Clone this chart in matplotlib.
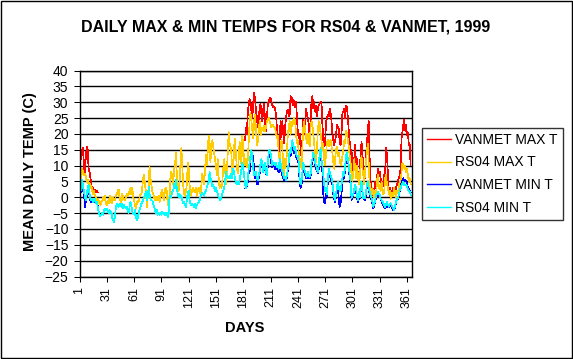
import numpy as np
import matplotlib
matplotlib.use("Agg")
import matplotlib.pyplot as plt
from matplotlib.patches import Rectangle

plt.rcParams["font.family"] = ["Liberation Sans", "DejaVu Sans"]

# Daily values (deg C), day 1..365
rs04_max = [
    5, 7, 6, 9, 8, 7, 7.5, 6.5, 5, 5.5,
    4, 4.5, 3, 3.5, 2, 1, 2, 0.5, 0, -1,
    -0.5, -2, -1, -2.5, -1.5, -1, 0, -1, 0.5, -2,
    -2.5, -1, -2, 0, 0.6, -1.5, -2, 0, -0.5, -1,
    0.5, 1, 2, 2.5, 0, -1, -2, 1, 0, -0.5,
    -1, 0, 1, 0.5, 1, 2, 3, 1, 3, 0,
    -1, -2.5, -3.5, -2, -1, -1.5, 0, 1, 1, 3,
    6, 7, 4, 2, -3, 0, 3, 10, 6, 4,
    2, 1, 0, -1, 0, -1, -0.5, 0.5, -1.5, 0,
    1.5, 2.5, 0, -1, 2.5, 3, 2, -2.5, -1, 0,
    7, 8, 6, 4, 9, 10, 14, 7, 3, 2,
    5, 11, 15.5, 10, 4, 1, 0.5, 2, 4, 11,
    9, 4, 0.5, 1, 2.5, 3, 2, 1.5, 3, 0.5,
    2, 3, 1.5, 1, 4, 7.5, 6, 4, 9, 13.5,
    10, 14.5, 19.5, 15, 11, 17.5, 18, 16, 14, 12,
    10, 7, 12, 6, 3, 4, 3, 5, 9, 12,
    9, 4, 8, 14, 20.5, 17, 16, 13.5, 7, 9,
    16, 18.5, 13, 9.5, 7.5, 12, 17.5, 14, 10.5, 19.5,
    16, 11, 10, 12, 9.5, 12, 17.5, 24, 26.5, 24,
    21, 18.5, 24, 26, 21.5, 16.5, 17.5, 20.5, 24, 19.5,
    21.5, 22, 21, 22.5, 21, 22, 24, 24.5, 25, 24,
    23, 22, 23, 22.5, 22, 22, 20, 18.5, 19.5, 13.5,
    11.5, 15, 18, 16, 9, 6, 12, 10, 14, 20,
    22, 24, 20, 22, 24, 23, 25, 24, 20, 17,
    18, 14, 10, 12, 9, 16, 22, 24, 21, 19,
    17, 20, 18, 16, 22, 24, 23, 20, 17, 13,
    11, 15, 21, 24, 23, 20, 18, 15, 17, 12,
    10, 14, 17.5, 18, 16, 17, 18, 16, 14, 11,
    9, 12, 15, 16, 13, 14, 12, 10, 11, 13,
    15, 18, 17, 21, 20, 18, 16, 13, 11, 7,
    5, 8, 12, 9, 6, 10, 7, 4, 6, 10,
    13, 9, 7, 4, 9, 11, 15, 17, 10, 4,
    2, 1, 3, 1, 0, 2, 0.5, 5, 7, 3,
    4, 2, 5, 3, 1, 2, 6, 7, 4, 3,
    1, 2, -0.5, 0, 1.5, 0.5, 3, 1, 0, 2,
    1.5, 3, 5, 4, 8, 11, 10, 9, 10, 8,
    9, 7, 5, 6, 4,
]

rs04_min = [
    -2.5, 1.5, 4, 5.5, 3, 2, 0, -1, 1, 3,
    4, 1, -0.5, -1, -0.5, -1.5, -1, -0.5, -2, -1.5,
    -3, -4.5, -5.5, -6, -5.5, -5, -5.5, -4, -3.5, -4,
    -3.5, -4.5, -5, -4, -5, -4.5, -6.5, -7, -7.8, -6,
    -3, -2, -2.5, -3, -2, -2.5, -3, -2, -3.5, -2.5,
    -3, -3.5, -3, -4.5, -5, -3, -1.5, -2.5, -4.5, -5,
    -5.5, -4, -6, -7.3, -6.5, -5, -4, -3, -2, -1.5,
    -1, 0, 1, 1.7, -1, 0, 3.3, 1, -0.5, -1,
    -1, -2, -3, -4, -5, -4, -5.5, -5, -5.5, -5,
    -5.5, -4.5, -5, -5.5, -5, -5.5, -5, -6.2, -5, 0.6,
    0, 0.5, 1.7, 2, 4.3, 3, 5.4, 3, 1, 0,
    1, 0, 0.5, -1, -2, -1.5, -2.5, -3, -1, 1.7,
    2, -1, -2, -2.5, -2, -2.5, -3, -2, -3.5, -2.5,
    -2, -1.5, -1, 0, 1, 1.5, 1, 0.5, 1.5, 2,
    3.3, 4, 4.8, 8, 6, 5, 3.5, 4, 3, 2,
    3, 2, 1, 0, -0.5, -1, 0, 1, 2, 3,
    5, 8, 6.5, 6, 6.5, 6, 7, 7.5, 6, 9,
    8, 5.5, 4.5, 4, 5, 4, 5.5, 7, 9, 11,
    9, 7, 4, 3, 4, 6, 9, 11, 13.5, 15,
    12, 9, 7, 7, 8, 6, 5.5, 7, 8, 11,
    12, 10, 8, 10, 11, 8, 7, 11, 14, 15,
    14, 12, 10, 11, 11, 10, 11, 9.5, 10, 9,
    12, 11, 9, 8, 7, 6, 6.5, 5.5, 7, 9,
    11, 15, 14, 16, 18, 16, 15, 16, 14, 13,
    13, 11, 6, 4, 5, 8, 11, 9, 8, 7,
    6.5, 8, 7, 6.5, 7, 11, 12, 14, 13, 11,
    10, 9, 8, 10, 14, 15.5, 12, 10, 7, 4,
    2, 3, 1, 6, 9, 8, 7, 6, 5, 2,
    0, -1, 1, 3, 5, 3, 2, 2, 4, 6,
    8, 7, 10, 13, 14, 12, 10, 7, 5, -0.3,
    0.5, 1, 2.5, 4, 3, 0.5, -0.8, 1.8, 0, 4,
    5, 2, -0.3, 0, -0.3, 1.8, 4, 5, 2.8, 1.8,
    0.5, -0.3, -1.4, -3, -2, -1, 0.7, 1, 1.8, 1,
    0.7, -0.3, -0.8, -1.4, -1.9, -2.5, -3, -2.4, -1.4, -2.4,
    -3, -2.2, -1.9, -2.4, -3, -3.5, -4, -2.4, -1.4, -0.5,
    -0.3, 0.7, 2.3, 2.8, 4, 4.5, 5, 3.9, 4, 3.9,
    3.4, 2.3, 2, 1.8, 0.7,
]

# VANMET only has data for days 1-21 and 183-365
vanmet_max_early = [5, 14, 12, 15, 15.5, 9, 8, 13, 16, 15,
                    9, 8, 6, 4, 2.5, 3, 1.5, 2.5, 1.5, 2, 1.5]
vanmet_max_late = [
    18, 22, 20, 27, 29, 31, 30, 27,
    25, 30, 33, 31, 27.5, 25, 22, 24, 28.5, 29.5,
    26, 24, 28, 29.5, 24, 21, 25, 29.5, 30, 31,
    31.5, 30, 29, 28.5, 28.5, 28, 26, 22, 19, 14,
    18, 24, 19, 24, 20, 17, 22, 25, 27, 27.5,
    25.5, 26, 32, 30, 31.5, 29, 30.5, 28.5, 30, 25,
    20.5, 18.5, 20, 15.5, 13, 18, 24.5, 20, 22, 28,
    26, 25, 23, 16.5, 22, 30.5, 32, 28, 30, 27,
    29, 25.5, 28, 29, 29.5, 30, 30, 23, 18, 16,
    17, 24, 25, 26, 25.5, 28, 26.5, 24, 20, 18,
    16.5, 18, 19.5, 23, 22, 21.5, 17.5, 16.5, 20, 26.5,
    27, 28, 25, 29, 28.5, 25, 21, 17.5, 13.5, 15,
    10, 8, 12, 16.5, 10, 12, 7, 6, 9, 13.5,
    17.5, 13.5, 10, 8, 6, 13.5, 16.5, 22, 24, 11.5,
    5, 2.8, 0.7, 2.8, 1.8, 5, 2.8, 6, 9, 7,
    8, 6, 4, 3, 5, 7, 8, 15.5, 13.5, 7,
    2, 3, 2.3, 1, 2, 3, 1, 2, 3, 4,
    5, 6, 7, 9, 18.5, 20.5, 23, 24.5, 21, 23,
    19.5, 20.5, 16.5, 16.5, 10,
]
vanmet_min_early = [0, 1, 3, 4.5, 2, 1, -3.2, -1, 0.5, 2.5,
                    3, 0.5, -1, -1.5, -1, -1.5, -1.5, -1, -2, -1.5, -2.5]
vanmet_min_late = [
    2.8, 3, 3.5, 5, 7.5, 8, 12, 14,
    12.5, 13, 8, 6, 7, 4, 4, 6, 7.5, 10,
    11, 9.5, 8, 9, 10, 7.5, 7, 10, 13, 14,
    12, 10.5, 9.5, 10, 10.5, 9, 10, 9, 8.5, 8,
    11, 10, 8, 7, 6, 5.5, 6, 5, 6.5, 8.5,
    10, 14, 13, 15, 16, 15, 14, 15, 13, 12,
    12, 10, 5, 3, 3.5, 7, 10, 8, 7, 6,
    6, 7, 6, 6, 6.5, 10, 11, 13, 12, 10,
    9, 8.5, 7.5, 9, 13, 14, 11, 8, 1, -1.5,
    -2, 1, 0.5, 5, 8, 7, 6, 5, 4, 1,
    -0.5, -1.5, 0.5, 2, 4, -1, -3, -2, 1, 5,
    7, 6, 9, 12, 13, 12.5, 9, 6, 4, -1,
    0, 0.5, 2, 3, 2, 0, -1.5, 1, -0.5, 3,
    4, 1.5, -0.5, -0.5, -1, 1, 3.5, 4.5, 2, 1,
    0, -1, -2, -3.5, -2.5, -1.5, 0, 0.5, 1.5, 0.5,
    0.5, -0.5, -1, -2, -2.5, -3, -3.5, -3, -2, -3,
    -3, -2.5, -2, -3, -3.5, -4, -4, -3, -1.5, -0.5,
    -0.5, 0.5, 2, 3, 4.5, 5.5, 6, 5, 5.5, 5,
    4.5, 3, 2.5, 2, 1.5,
]

series_names = ["VANMET MAX T", "RS04 MAX T", "VANMET MIN T", "RS04 MIN T"]
series_colors = ["#FF0000", "#FFCC00", "#0000FF", "#00FFFF"]
x_ticks = list(range(1, 366, 30))


def full_year(early, late):
    """Put the VANMET pieces into a 365 day array, gaps as NaN."""
    vals = np.full(365, np.nan)
    vals[:len(early)] = early
    vals[365 - len(late):] = late
    return vals


def main():
    days = np.arange(1, 366)
    data = [full_year(vanmet_max_early, vanmet_max_late),
            np.array(rs04_max, dtype=float),
            full_year(vanmet_min_early, vanmet_min_late),
            np.array(rs04_min, dtype=float)]

    W, H = 573, 359
    fig = plt.figure(figsize=(W / 100, H / 100), dpi=100)
    fig.patch.set_facecolor("white")

    # plot area in pixels: left 79.5, right 412, top 70.5, bottom 276.5
    ax = fig.add_axes([79.5 / W, 1 - 276.5 / H, (412 - 79.5) / W, (276.5 - 70.5) / H])
    for vals, name, col in zip(data, series_names, series_colors):
        ax.plot(days, vals, color=col, lw=0.5, label=name, antialiased=False)

    ax.set_xlim(1, 366.5)
    ax.set_ylim(-25, 40)
    ax.set_yticks(range(-25, 41, 5))
    ax.set_xticks(x_ticks)
    ax.set_xticklabels([str(t) for t in x_ticks], rotation=90, fontsize=9)
    ax.tick_params(axis="y", labelsize=10, length=4.5, width=0.75, pad=3.5, direction="out")
    ax.tick_params(axis="x", length=3.5, width=0.75, pad=4, direction="out")
    ax.grid(axis="y", color="black", lw=1.0)
    ax.set_axisbelow(True)
    for sp in ax.spines.values():
        sp.set_linewidth(1.0)
        sp.set_color("black")

    fig.text(285.5 / W, 1 - 27 / H, "DAILY MAX & MIN TEMPS FOR RS04 & VANMET, 1999",
             ha="center", va="center", fontsize=11.5, fontweight="bold")
    fig.text(30 / W, 1 - 172 / H, "MEAN DAILY TEMP (C)", rotation=90,
             ha="center", va="center", fontsize=10.5, fontweight="bold")
    fig.text(245 / W, 1 - 328 / H, "DAYS", ha="center", va="center",
             fontsize=10.5, fontweight="bold")

    leg = fig.legend(loc="upper left", bbox_to_anchor=(422 / W, 1 - 128 / H),
                     fontsize=10, frameon=True, fancybox=False, borderaxespad=0,
                     handlelength=1.75, handletextpad=0.3, labelspacing=0.62,
                     borderpad=0.35)
    leg.get_frame().set_edgecolor("black")
    leg.get_frame().set_linewidth(1.0)
    for line in leg.get_lines():
        line.set_linewidth(1.0)
        line.set_antialiased(True)

    # outer chart border
    fig.patches.append(Rectangle((0.5 / W, 1.5 / H), 571 / W, 357 / H,
                                 transform=fig.transFigure, fill=False,
                                 edgecolor="black", lw=1.0))

    fig.savefig("out.png", dpi=100)


if __name__ == "__main__":
    main()
